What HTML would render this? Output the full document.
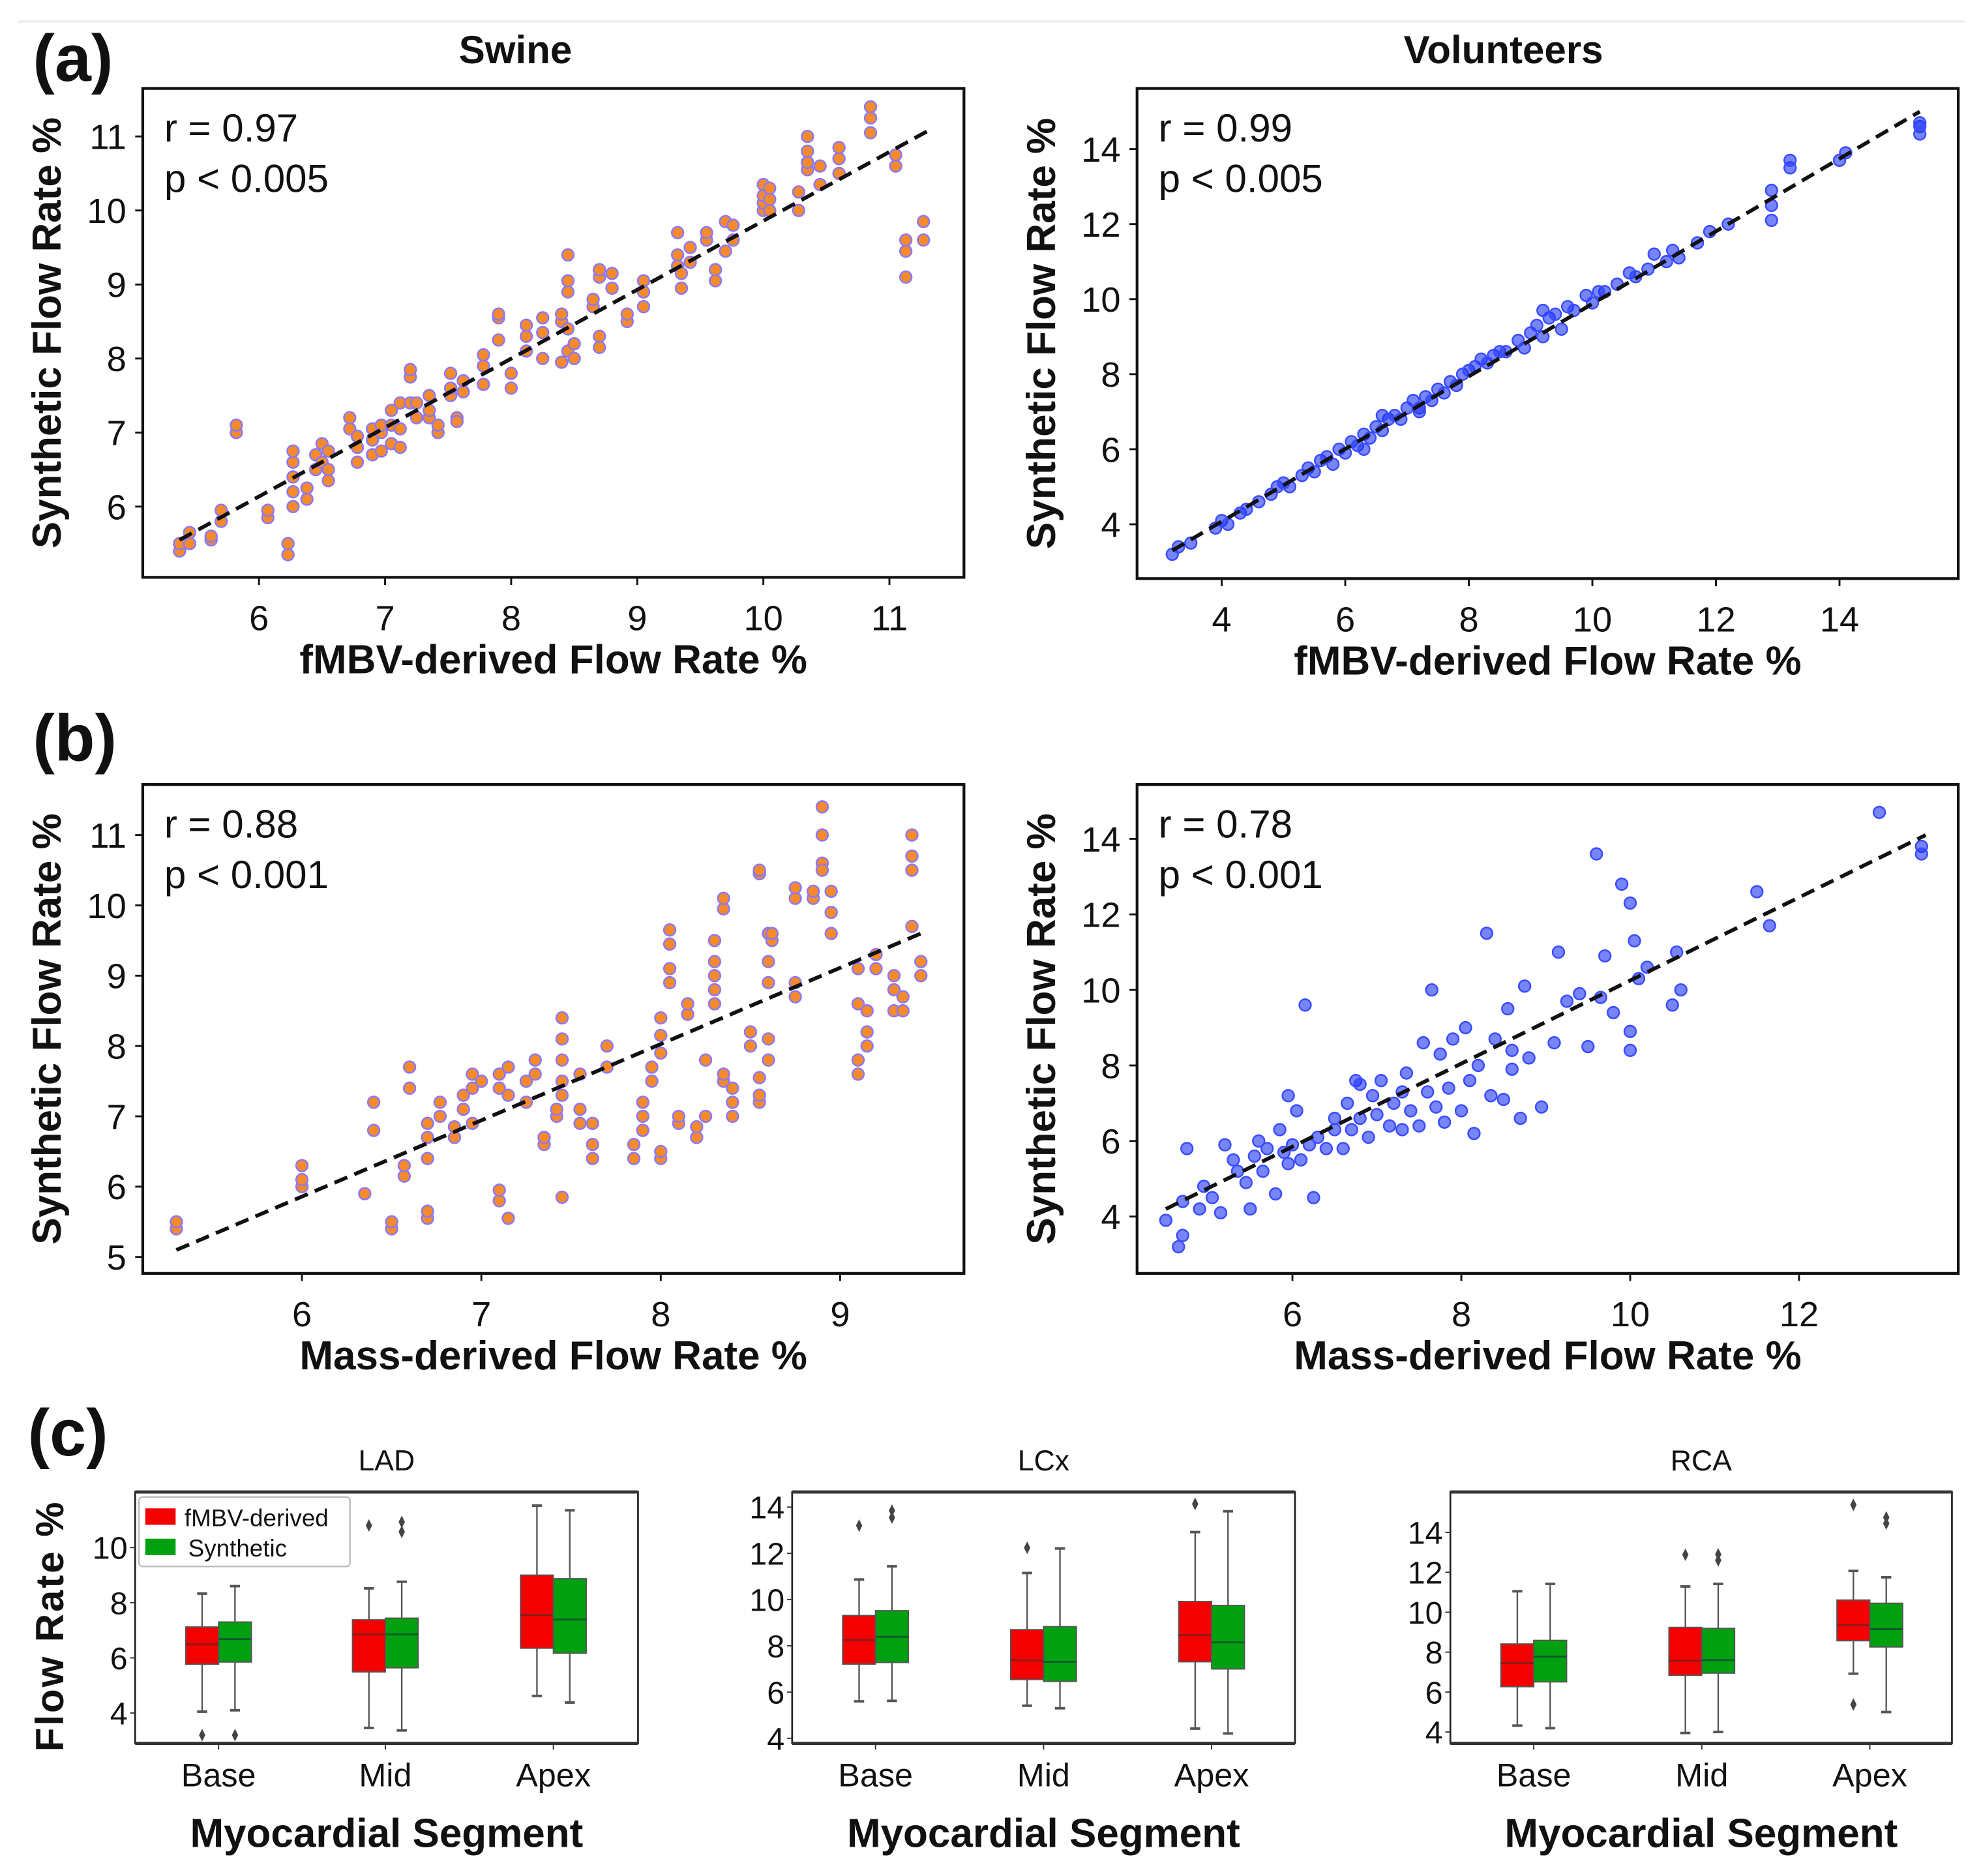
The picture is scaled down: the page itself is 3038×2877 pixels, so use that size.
<!DOCTYPE html>
<html><head><meta charset="utf-8"><style>
html,body{margin:0;padding:0;background:#fff}
svg{display:block}
text{font-family:"Liberation Sans",sans-serif;fill:#111}
</style></head><body>
<svg id="fig" xmlns="http://www.w3.org/2000/svg" width="3038" height="2877" viewBox="0 0 1568 1485" preserveAspectRatio="none">
<rect x="0" y="0" width="1568" height="1485" fill="#fff"/>
<line x1="14" y1="17" x2="1555" y2="17" stroke="#eee" stroke-width="2"/>
<text x="26" y="64" font-size="52" font-weight="bold">(a)</text>
<text x="26" y="602" font-size="52" font-weight="bold">(b)</text>
<text x="22" y="1152" font-size="52" font-weight="bold">(c)</text>
<text x="408" y="50" font-size="31" font-weight="bold" text-anchor="middle">Swine</text>
<text x="1190" y="50" font-size="31" font-weight="bold" text-anchor="middle">Volunteers</text>
<g id="root"></g>
</svg>
<script>
// ---------- data ----------
const swineAX = [5.37,5.37,5.45,5.45,5.62,5.62,5.7,5.7,5.82,5.82,6.07,6.07,6.23,6.23,6.27,6.27,6.27,6.27,6.27,6.38,6.38,6.45,6.45,6.5,6.5,6.55,6.55,6.55,6.72,6.72,6.78,6.78,6.78,6.9,6.9,6.9,6.97,6.97,6.97,7.05,7.05,7.05,7.12,7.12,7.12,7.2,7.2,7.2,7.25,7.25,7.35,7.35,7.35,7.42,7.42,7.52,7.52,7.52,7.57,7.57,7.62,7.62,7.78,7.78,7.78,7.9,7.9,7.9,8.0,8.0,8.12,8.12,8.12,8.25,8.25,8.25,8.4,8.4,8.4,8.45,8.45,8.45,8.45,8.45,8.5,8.5,8.65,8.65,8.7,8.7,8.7,8.7,8.8,8.8,8.92,8.92,9.05,9.05,9.05,9.32,9.32,9.32,9.35,9.35,9.42,9.42,9.55,9.55,9.62,9.62,9.7,9.7,9.76,9.76,10.0,10.0,10.0,10.0,10.05,10.05,10.05,10.28,10.28,10.35,10.35,10.35,10.35,10.45,10.45,10.6,10.6,10.6,10.85,10.85,10.85,11.05,11.05,11.13,11.13,11.13,11.27,11.27];
const swineAY = [5.4,5.5,5.5,5.65,5.55,5.6,5.8,5.95,7.0,7.1,5.85,5.95,5.35,5.5,6.0,6.2,6.4,6.6,6.75,6.1,6.25,6.5,6.7,6.6,6.85,6.35,6.5,6.75,7.05,7.2,6.6,6.8,6.95,6.7,6.9,7.05,6.75,7.0,7.1,6.85,7.1,7.3,6.8,7.05,7.4,7.4,7.75,7.85,7.2,7.4,7.2,7.3,7.5,7.0,7.1,7.5,7.8,7.6,7.2,7.15,7.55,7.7,7.65,7.9,8.05,8.25,8.55,8.6,7.6,7.8,8.1,8.3,8.45,8.0,8.35,8.55,7.95,8.5,8.6,8.1,8.4,8.9,9.05,9.4,8.0,8.2,8.7,8.8,8.15,8.3,9.1,9.2,8.95,9.15,8.5,8.6,8.7,8.9,9.05,9.25,9.4,9.7,8.95,9.15,9.3,9.5,9.6,9.7,9.05,9.2,9.45,9.85,9.6,9.8,10.0,10.1,10.2,10.35,10.0,10.15,10.3,10.0,10.25,10.55,10.65,10.8,11.0,10.35,10.6,10.5,10.7,10.85,11.05,11.25,11.4,10.6,10.75,9.1,9.45,9.6,9.6,9.85];
const swineAFit = [[5.37,5.55],[11.3,11.07]];
const volAX = [3.2,3.3,3.5,3.9,4.0,4.1,4.3,4.4,4.6,4.8,4.9,5.1,5.3,5.4,5.5,5.6,5.7,5.8,5.9,6.0,6.1,6.2,6.3,6.4,6.5,6.6,6.7,6.8,6.9,7.0,7.1,7.2,7.3,7.4,7.5,7.6,7.7,7.8,7.9,8.0,8.1,8.2,8.4,8.5,8.6,8.8,8.9,9.0,9.1,9.2,9.3,9.4,9.5,9.6,9.7,9.9,10.0,10.2,10.4,10.6,10.7,10.9,11.0,11.2,11.3,11.4,11.7,11.9,12.2,12.9,12.9,13.2,14.0,15.3,15.3,5.0,6.3,6.6,7.2,8.3,9.2,10.1,12.9,13.2,14.1,15.3];
const volAY = [3.2,3.4,3.5,3.9,4.1,4.0,4.3,4.4,4.6,4.8,5.0,5.0,5.3,5.5,5.4,5.7,5.8,5.6,6.0,5.9,6.2,6.1,6.4,6.3,6.6,6.5,6.8,6.9,6.8,7.1,7.3,7.1,7.4,7.3,7.6,7.5,7.8,7.7,8.0,8.1,8.2,8.4,8.5,8.6,8.6,8.9,8.7,9.1,9.3,9.0,9.5,9.6,9.2,9.8,9.7,10.1,9.9,10.2,10.4,10.7,10.6,10.8,11.2,11.0,11.3,11.1,11.5,11.8,12.0,12.5,12.9,13.5,13.7,14.6,14.4,5.1,6.0,6.9,7.0,8.3,9.7,10.2,12.1,13.7,13.9,14.7];
const volAFit = [[3.2,3.3],[15.3,15.0]];
const swineBX = [5.3,5.3,6.0,6.0,6.0,6.35,6.4,6.4,6.5,6.5,6.57,6.57,6.6,6.6,6.7,6.7,6.7,6.7,6.7,6.77,6.77,6.85,6.85,6.9,6.9,6.95,6.95,6.95,7.0,7.1,7.1,7.1,7.1,7.15,7.15,7.15,7.25,7.25,7.3,7.3,7.35,7.35,7.42,7.42,7.45,7.45,7.45,7.45,7.45,7.45,7.55,7.55,7.55,7.62,7.62,7.62,7.7,7.7,7.85,7.85,7.9,7.9,7.9,7.95,7.95,8.0,8.0,8.0,8.0,8.0,8.05,8.05,8.05,8.05,8.1,8.1,8.15,8.15,8.2,8.2,8.25,8.25,8.3,8.3,8.3,8.3,8.3,8.35,8.35,8.35,8.35,8.4,8.4,8.4,8.5,8.5,8.55,8.55,8.55,8.55,8.55,8.6,8.6,8.6,8.6,8.6,8.62,8.62,8.75,8.75,8.75,8.75,8.85,8.85,8.9,8.9,8.9,8.9,8.95,8.95,8.95,9.1,9.1,9.1,9.1,9.15,9.15,9.15,9.2,9.2,9.3,9.3,9.3,9.35,9.35,9.4,9.4,9.4,9.4,9.45,9.45];
const swineBY = [5.4,5.5,6.0,6.1,6.3,5.9,6.8,7.2,5.4,5.5,6.15,6.3,7.4,7.7,5.55,5.65,6.4,6.7,6.9,7.0,7.2,6.7,6.85,7.1,7.3,6.9,7.4,7.6,7.5,5.8,5.95,7.4,7.6,5.55,7.3,7.7,7.2,7.5,7.6,7.8,6.6,6.7,7.0,7.1,7.3,7.5,7.8,8.1,8.4,5.85,6.9,7.1,7.6,6.4,6.6,6.9,7.7,8.0,6.4,6.6,6.8,7.0,7.2,7.5,7.7,6.4,6.5,7.9,8.15,8.4,8.9,9.1,9.45,9.65,6.9,7.0,8.45,8.6,6.7,6.85,7.8,7.0,8.6,8.8,9.0,9.2,9.5,7.5,7.6,9.95,10.1,7.0,7.2,7.4,8.0,8.2,10.45,10.5,7.2,7.3,7.55,8.9,9.2,9.6,7.8,8.1,9.5,9.6,8.7,8.9,10.1,10.25,10.1,10.2,10.6,11.0,11.4,10.5,9.6,9.9,10.2,7.6,7.8,8.6,9.1,8.0,8.2,8.5,9.1,9.3,8.5,8.8,9.0,8.5,8.7,9.7,10.5,10.7,11.0,9.0,9.2];
const swineBFit = [[5.3,5.1],[9.45,9.6]];
const volBX = [4.5,4.65,4.7,4.7,4.75,4.9,4.95,5.05,5.15,5.2,5.3,5.35,5.45,5.5,5.55,5.6,5.65,5.7,5.8,5.85,5.9,5.95,6.0,6.05,6.1,6.15,6.2,6.25,6.3,6.4,6.5,6.5,6.6,6.65,6.7,6.75,6.8,6.9,6.95,7.0,7.05,7.15,7.2,7.3,7.35,7.4,7.5,7.55,7.6,7.65,7.7,7.75,7.8,7.85,7.9,8.0,8.05,8.1,8.15,8.2,8.3,8.35,8.4,8.5,8.55,8.6,8.7,8.75,8.8,8.95,9.1,9.15,9.25,9.5,9.6,9.65,9.7,9.8,9.9,10.0,10.05,10.1,10.2,10.0,10.5,10.55,10.6,11.5,11.65,12.95,13.45,13.45,5.95,6.8,7.3,8.6,9.4,10.0];
const volBY = [3.9,3.2,3.5,4.4,5.8,4.2,4.8,4.5,4.1,5.9,5.5,5.2,4.9,4.2,5.6,6.0,5.2,5.8,4.6,6.3,5.7,7.2,5.9,6.8,5.5,9.6,5.9,4.5,6.1,5.8,6.6,6.3,5.8,7.0,6.3,7.6,6.6,6.1,7.2,6.7,7.6,6.4,7.0,6.3,7.8,6.8,6.4,8.6,7.3,10.0,6.9,8.3,6.5,7.4,8.7,6.8,9.0,7.6,6.2,8.0,11.5,7.2,8.7,7.1,9.5,7.9,6.6,10.1,8.2,6.9,8.6,11.0,9.7,8.5,13.6,9.8,10.9,9.4,12.8,8.9,11.3,10.3,10.6,12.3,9.6,11.0,10.0,12.6,11.7,14.7,13.8,13.6,5.4,7.5,7.3,8.4,9.9,8.4];
const volBFit = [[4.5,4.2],[13.5,14.1]];
const categories = ["Base","Mid","Apex"];
const ladFmbv = [[4.05,5.77,6.49,7.12,8.33],[3.46,5.49,6.85,7.38,8.52],[4.62,6.35,7.56,9.0,11.52]];
const ladSyn  = [[4.1,5.85,6.68,7.3,8.6],[3.37,5.64,6.85,7.44,8.76],[4.38,6.17,7.39,8.87,11.35]];
const ladFmbvOut = [[3.2],[10.8],[]];
const ladSynOut  = [[3.2],[10.93,10.57],[]];
const lcxFmbv = [[5.6,7.21,8.25,9.31,10.87],[5.41,6.54,7.38,8.7,11.15],[4.42,7.31,8.46,9.92,12.92]];
const lcxSyn  = [[5.62,7.28,8.39,9.52,11.44],[5.3,6.46,7.31,8.83,12.21],[4.21,7.0,8.15,9.75,13.82]];
const lcxFmbvOut = [[13.2],[12.24],[14.14]];
const lcxSynOut  = [[13.55,13.85],[],[]];
const rcaFmbv = [[4.32,6.27,7.45,8.41,11.05],[3.95,6.84,7.57,9.24,11.29],[6.92,8.57,9.35,10.61,12.07]];
const rcaSyn  = [[4.19,6.51,7.78,8.59,11.42],[4.0,6.95,7.6,9.19,11.42],[5.0,8.26,9.15,10.45,11.75]];
const rcaFmbvOut = [[],[12.88],[5.38,15.38]];
const rcaSynOut  = [[],[12.9,12.6],[14.75,14.45]];
const ticksA1x=[6,7,8,9,10,11], ticksA1y=[6,7,8,9,10,11];
const ticksA2x=[4,6,8,10,12,14], ticksA2y=[4,6,8,10,12,14];
const ticksB1x=[6,7,8,9], ticksB1y=[5,6,7,8,9,10,11];
const ticksB2x=[6,8,10,12], ticksB2y=[4,6,8,10,12,14];
const ticksLAD=[4,6,8,10], ticksLCX=[4,6,8,10,12,14], ticksRCA=[4,6,8,10,12,14];

// ---------- drawing ----------
const NS="http://www.w3.org/2000/svg";
const root=document.getElementById('root');
function mk(tag,attrs,parent){const e=document.createElementNS(NS,tag);for(const k in attrs)e.setAttribute(k,attrs[k]);(parent||root).appendChild(e);return e;}
function lin(d0,d1,r0,r1){return v=>r0+(v-d0)*(r1-r0)/(d1-d0);}

function scatterPanel(cfg){
  const g=mk('g',{});
  
  
  const sx=lin(cfg.xd[0],cfg.xd[1],cfg.xr[0],cfg.xr[1]);
  const sy=lin(cfg.yd[0],cfg.yd[1],cfg.yr[0],cfg.yr[1]);
  const fr=mk('rect',{x:cfg.box[0],y:cfg.box[1],width:cfg.box[2]-cfg.box[0],height:cfg.box[3]-cfg.box[1],fill:'none',stroke:'#111','stroke-width':2.2},g);
  
  
  cfg.xt.forEach(t=>{
    const x=sx(t);
    mk('line',{x1:x,y1:cfg.box[3],x2:x,y2:cfg.box[3]+6,stroke:'#111','stroke-width':1.5},g);
    const tx=mk('text',{x:x,y:cfg.box[3]+42,'font-size':28,'text-anchor':'middle'},g);
    tx.textContent=t;
    
    
  });
  cfg.yt.forEach(t=>{
    const y=sy(t);
    mk('line',{x1:cfg.box[0]-6,y1:y,x2:cfg.box[0],y2:y,stroke:'#111','stroke-width':1.5},g);
    const tx=mk('text',{x:cfg.box[0]-13,y:y+10,'font-size':28,'text-anchor':'end'},g);
    tx.textContent=t;
    
    
  });
  cfg.xs.forEach((xv,i)=>{
    const c=mk('circle',{cx:sx(xv),cy:sy(cfg.ys[i]),r:4.6,fill:cfg.fill,'fill-opacity':cfg.op,stroke:cfg.stroke,'stroke-width':1.3},g);
    
    
  });
  const f=cfg.fit;
  const ln=mk('line',{x1:sx(f[0][0]),y1:sy(f[0][1]),x2:sx(f[1][0]),y2:sy(f[1][1]),stroke:'#111','stroke-width':3,'stroke-dasharray':'11,6'},g);
  
  
  const s1=mk('text',{x:cfg.box[0]+17,y:cfg.box[1]+42,'font-size':31},g);
  s1.textContent=cfg.r;
  
  
  const s2=mk('text',{x:cfg.box[0]+17,y:cfg.box[1]+82,'font-size':31},g);
  s2.textContent=cfg.p;
  
  
  const xl=mk('text',{x:(cfg.box[0]+cfg.box[2])/2,y:cfg.box[3]+76,'font-size':32,'font-weight':'bold','text-anchor':'middle'},g);
  xl.textContent=cfg.xlabel;
  
  
  const cy=(cfg.box[1]+cfg.box[3])/2;
  const yl=mk('text',{x:0,y:0,'font-size':32,'font-weight':'bold','text-anchor':'middle',transform:`translate(${cfg.box[0]-65},${cy}) rotate(-90)`},g);
  yl.textContent='Synthetic Flow Rate %';
  
  
}
const orange='#f58a2a', ostroke='#8a78ff', blue='#1e34f5';
scatterPanel({name:'swine-fmbv-scatter',box:[113,70,763,457],xd:[6,11],xr:[205,704],yd:[6,11],yr:[401,108],xt:ticksA1x,yt:ticksA1y,xs:swineAX,ys:swineAY,fit:swineAFit,fill:orange,op:1,stroke:ostroke,r:'r = 0.97',p:'p < 0.005',xlabel:'fMBV-derived Flow Rate %'});
scatterPanel({name:'volunteers-fmbv-scatter',box:[900,70,1550,458],xd:[4,14],xr:[967,1456],yd:[4,14],yr:[415,118],xt:ticksA2x,yt:ticksA2y,xs:volAX,ys:volAY,fit:volAFit,fill:blue,op:0.6,stroke:'#3a4cff',r:'r = 0.99',p:'p < 0.005',xlabel:'fMBV-derived Flow Rate %'});
scatterPanel({name:'swine-mass-scatter',box:[113,621,763,1008],xd:[6,9],xr:[239,665],yd:[5,11],yr:[995,661],xt:ticksB1x,yt:ticksB1y,xs:swineBX,ys:swineBY,fit:swineBFit,fill:orange,op:1,stroke:ostroke,r:'r = 0.88',p:'p < 0.001',xlabel:'Mass-derived Flow Rate %'});
scatterPanel({name:'volunteers-mass-scatter',box:[900,621,1550,1008],xd:[6,12],xr:[1023,1424],yd:[4,14],yr:[963,664],xt:ticksB2x,yt:ticksB2y,xs:volBX,ys:volBY,fit:volBFit,fill:blue,op:0.6,stroke:'#3a4cff',r:'r = 0.78',p:'p < 0.001',xlabel:'Mass-derived Flow Rate %'});

function boxPanel(cfg){
  const g=mk('g',{});
  
  
  const sy=lin(cfg.yd[0],cfg.yd[1],cfg.yr[0],cfg.yr[1]);
  const [x0,y0,x1,y1]=cfg.box;
  const fr=mk('rect',{x:x0,y:y0,width:x1-x0,height:y1-y0,fill:'none',stroke:'#222','stroke-width':1.4},g);
  
  
  mk('line',{x1:x0,y1:y0,x2:x1,y2:y0,stroke:'#333','stroke-width':2.5},g);
  mk('line',{x1:x0,y1:y1,x2:x1,y2:y1,stroke:'#333','stroke-width':2.5},g);
  const tt=mk('text',{x:(x0+x1)/2,y:y0-17,'font-size':23,'text-anchor':'middle'},g);
  tt.textContent=cfg.title;
  
  
  cfg.yt.forEach(t=>{
    const y=sy(t);
    mk('line',{x1:x0-4,y1:y,x2:x0,y2:y,stroke:'#333','stroke-width':1},g);
    const tx=mk('text',{x:x0-6,y:y+9,'font-size':25,'text-anchor':'end'},g);
    tx.textContent=t;
    
    
  });
  const bw=26;
  categories.forEach((c,i)=>{
    const cx=cfg.cx[i];
    mk('line',{x1:cx,y1:y1,x2:cx,y2:y1+5,stroke:'#333','stroke-width':1},g);
    const tx=mk('text',{x:cx,y:y1+34,'font-size':26,'text-anchor':'middle'},g);
    tx.textContent=c;
    
    
    [[cfg.f[i],cfg.fo[i],cx-bw,'#f50000','#8a1a1a','fmbv'],[cfg.s[i],cfg.so[i],cx,'#00a010','#0a5a2a','synthetic']].forEach(([st,out,bx,col,mc,nm])=>{
      const mid=bx+bw/2;
      mk('line',{x1:mid,y1:sy(st[4]),x2:mid,y2:sy(st[3]),stroke:'#555','stroke-width':1.2},g);
      mk('line',{x1:mid,y1:sy(st[1]),x2:mid,y2:sy(st[0]),stroke:'#555','stroke-width':1.2},g);
      mk('line',{x1:mid-4,y1:sy(st[4]),x2:mid+4,y2:sy(st[4]),stroke:'#555','stroke-width':2},g);
      mk('line',{x1:mid-4,y1:sy(st[0]),x2:mid+4,y2:sy(st[0]),stroke:'#555','stroke-width':2},g);
      const b=mk('rect',{x:bx,y:sy(st[3]),width:bw,height:sy(st[1])-sy(st[3]),fill:col,stroke:'#555','stroke-width':1},g);
      
      
      mk('line',{x1:bx,y1:sy(st[2]),x2:bx+bw,y2:sy(st[2]),stroke:mc,'stroke-width':1.5},g);
      out.forEach(o=>{
        const y=sy(o);
        const d=mk('path',{d:`M${mid} ${y-5} L${mid+2.5} ${y} L${mid} ${y+5} L${mid-2.5} ${y} Z`,fill:'#444'},g);
        
        
      });
    });
  });
  const xl=mk('text',{x:(x0+x1)/2,y:y1+82,'font-size':32,'font-weight':'bold','text-anchor':'middle'},g);
  xl.textContent='Myocardial Segment';
  
  
  return g;
}
boxPanel({name:'lad-boxplot',title:'LAD',box:[107,1181,505,1380],yd:[4,10],yr:[1356,1225],yt:ticksLAD,cx:[173,305,438],f:ladFmbv,s:ladSyn,fo:ladFmbvOut,so:ladSynOut});
boxPanel({name:'lcx-boxplot',title:'LCx',box:[627,1181,1025,1380],yd:[4,14],yr:[1376,1193],yt:ticksLCX,cx:[693,826,959],f:lcxFmbv,s:lcxSyn,fo:lcxFmbvOut,so:lcxSynOut});
boxPanel({name:'rca-boxplot',title:'RCA',box:[1148,1181,1545,1380],yd:[4,14],yr:[1371,1213],yt:ticksRCA,cx:[1214,1347,1480],f:rcaFmbv,s:rcaSyn,fo:rcaFmbvOut,so:rcaSynOut});
const fyl=mk('text',{x:0,y:0,'font-size':31,'font-weight':'bold','text-anchor':'middle',transform:'translate(50,1287) rotate(-90)','letter-spacing':'1.5'});
fyl.textContent='Flow Rate %';


const lg=mk('g',{});


mk('rect',{x:110,y:1185,width:167,height:55,rx:3,fill:'#fff',stroke:'#bbb','stroke-width':1.2},lg);
mk('rect',{x:115,y:1194,width:24,height:13,fill:'#f50000'},lg);
mk('rect',{x:115,y:1218,width:24,height:13,fill:'#00a010'},lg);
const l1=mk('text',{x:146,y:1208,'font-size':19},lg);
l1.textContent='fMBV-derived';


const l2=mk('text',{x:149,y:1232,'font-size':19},lg);
l2.textContent='Synthetic';


</script>
</body></html>
